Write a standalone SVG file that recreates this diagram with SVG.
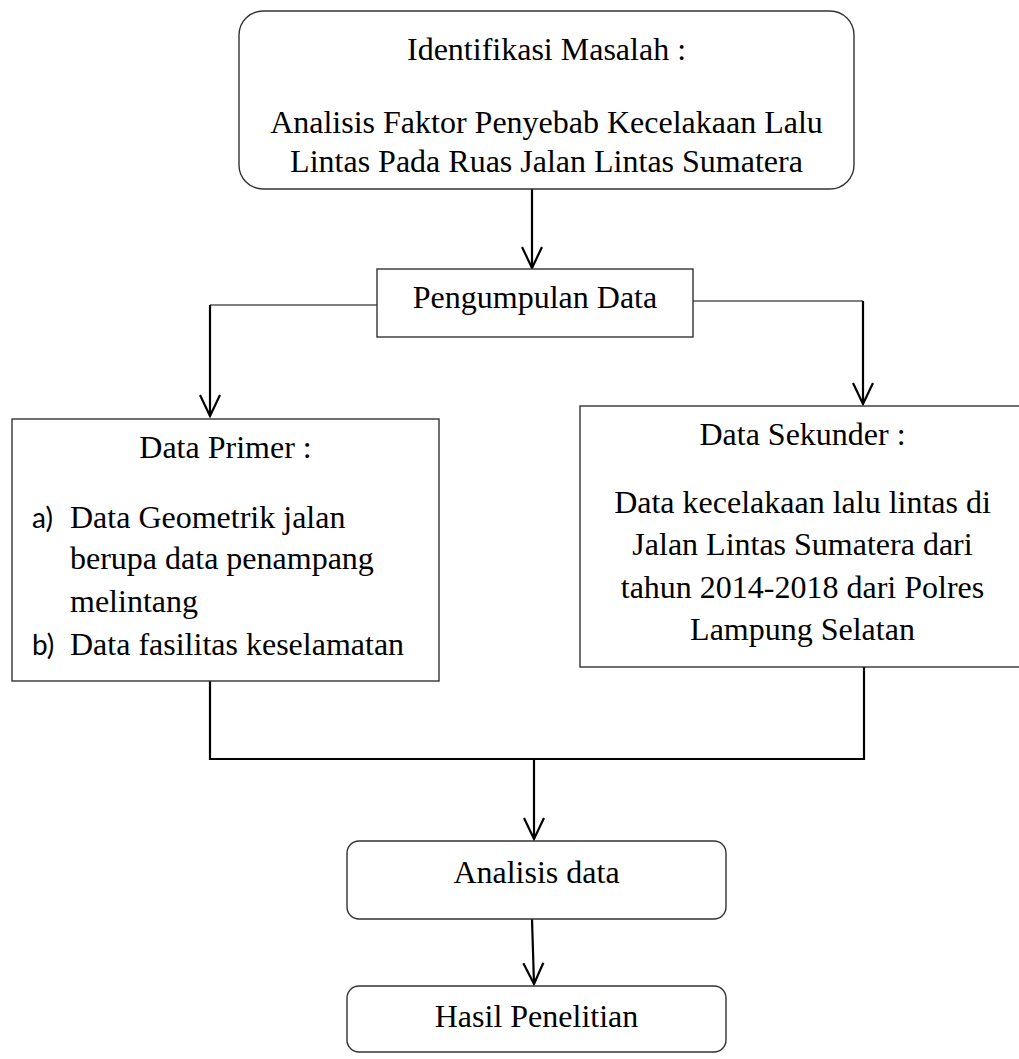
<svg xmlns="http://www.w3.org/2000/svg" width="1019" height="1059" viewBox="0 0 1019 1059">
  <style>
    .box { fill: #ffffff; stroke: #333333; stroke-width: 1.4; }
    .t { font-family: "Liberation Serif", "Times New Roman", serif; font-size: 32px; fill: #000000; }
    .c { text-anchor: middle; }
    .lbl { font-family: Lato, "Open Sans", "Liberation Sans", sans-serif; font-size: 28px; fill: #000000; }
    .wire { fill: none; stroke: #000000; stroke-width: 2.2; }
    .thin { fill: none; stroke: #555555; stroke-width: 1.6; }
  </style>
  <defs>
    <marker id="arrow" markerUnits="userSpaceOnUse" viewBox="-24 -13 27 26" markerWidth="27" markerHeight="26" refX="0" refY="0" orient="auto">
      <path d="M -21,-10 L 0,0 L -21,10" fill="none" stroke="#000000" stroke-width="2.2"/>
    </marker>
  </defs>
  <rect width="1019" height="1059" fill="#ffffff"/>

  <g id="connectors">
    <line class="wire" x1="532" y1="189" x2="532" y2="268" marker-end="url(#arrow)"/>
    <polyline class="thin" points="377,305 210,305"/>
    <line class="wire" x1="210" y1="305" x2="210" y2="416" marker-end="url(#arrow)"/>
    <polyline class="thin" points="693,301 863,301"/>
    <line class="wire" x1="863" y1="301" x2="863" y2="404" marker-end="url(#arrow)"/>
    <polyline class="wire" points="210,681 210,759 864,759 864,667"/>
    <line class="wire" x1="534" y1="759" x2="534" y2="839" marker-end="url(#arrow)"/>
    <line class="wire" x1="532" y1="919" x2="534" y2="984" marker-end="url(#arrow)"/>
  </g>

  <g id="node-identifikasi">
    <rect class="box" x="239" y="11" width="615" height="178" rx="24" ry="24"/>
    <text class="t c" x="546.5" y="60">Identifikasi Masalah :</text>
    <text class="t c" x="546.5" y="133">Analisis Faktor Penyebab Kecelakaan Lalu</text>
    <text class="t c" x="546.5" y="172">Lintas Pada Ruas Jalan Lintas Sumatera</text>
  </g>

  <g id="node-pengumpulan">
    <rect class="box" x="377" y="269" width="316" height="68"/>
    <text class="t c" x="535" y="308">Pengumpulan Data</text>
  </g>

  <g id="node-primer">
    <rect class="box" x="12" y="419" width="427" height="262"/>
    <text class="t c" x="225.5" y="458">Data Primer :</text>
    <text class="lbl" x="32" y="528">a)</text>
    <text class="t" x="70" y="528">Data Geometrik jalan</text>
    <text class="t" x="70" y="569">berupa data penampang</text>
    <text class="t" x="70" y="612">melintang</text>
    <text class="lbl" x="32" y="655">b)</text>
    <text class="t" x="70" y="655">Data fasilitas keselamatan</text>
  </g>

  <g id="node-sekunder">
    <rect class="box" x="580" y="406" width="446" height="261"/>
    <text class="t c" x="802.5" y="445">Data Sekunder :</text>
    <text class="t c" x="802.5" y="513">Data kecelakaan lalu lintas di</text>
    <text class="t c" x="802.5" y="555">Jalan Lintas Sumatera dari</text>
    <text class="t c" x="802.5" y="598">tahun 2014-2018 dari Polres</text>
    <text class="t c" x="802.5" y="640">Lampung Selatan</text>
  </g>

  <g id="node-analisis">
    <rect class="box" x="347" y="841" width="379" height="78" rx="12" ry="12"/>
    <text class="t c" x="536.5" y="883">Analisis data</text>
  </g>

  <g id="node-hasil">
    <rect class="box" x="347" y="986" width="379" height="66" rx="12" ry="12"/>
    <text class="t c" x="536.5" y="1027">Hasil Penelitian</text>
  </g>
</svg>
